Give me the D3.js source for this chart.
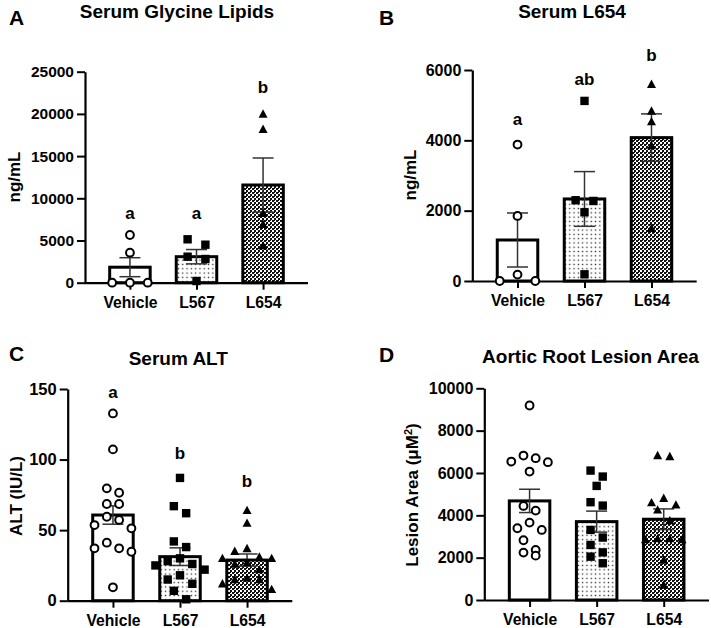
<!DOCTYPE html>
<html><head><meta charset="utf-8">
<script src="https://cdn.jsdelivr.net/npm/d3@7"></script>
<style>
body{margin:0;background:#fff;}
svg text{font-family:"Liberation Sans",Arial,Helvetica,sans-serif;font-weight:bold;fill:#000;}
</style></head>
<body><svg id="chart" width="711" height="628"></svg>
<script>
// ---------- data ----------
const categories = ["Vehicle", "L567", "L654"];

// Panel A: Serum Glycine Lipids (ng/mL)
const glyPoints = [
  [5652, 3555, 0, 0, 0],
  [5142, 4502, 3081, 2808, 201],
  [19988, 18175, 8223, 6920, 4384]
];
const glyMeans = [1836, 3081, 11576];
const glySems = [1125, 848, 3200];
const glyTicks = [0, 5000, 10000, 15000, 20000, 25000];
const glyLetters = ["a", "a", "b"];
const glyLetterVals = [7500, 7500, 22480];

// Panel B: Serum L654 (ng/mL)
const l654Points = [
  [3880, 1850, 182, 0, 0],
  [5121, 2276, 2296, 1954, 190],
  [5596, 4836, 4532, 3849, 1499]
];
const l654Means = [1166, 2333, 4077];
const l654Sems = [768, 778, 675];
const l654Ticks = [0, 2000, 4000, 6000];
const l654Letters = ["a", "ab", "b"];
const l654LetterVals = [4440, 5576, 6260];

// Panel C: Serum ALT (IU/L)
const altPoints = [
  [132.7, 107.2, 79.6, 76.5, 68.5, 68.5, 59.5, 57.2, 53.6, 51.3, 41.1, 37.1, 37.1, 34.7, 9.5],
  [87, 67, 62, 42, 38, 30, 28, 26, 25, 22, 18, 15, 12, 7, 1],
  [64, 55, 37, 35, 31, 30, 30, 27, 26, 22, 16, 15, 15, 12, 8]
];
const altMeans = [60.7, 31.2, 28.8];
const altSems = [6.5, 6.25, 4.3];
const altTicks = [0, 50, 100, 150];
const altLetters = ["a", "b", "b"];
const altLetterVals = [143.8, 100.4, 80.7];

// Panel D: Aortic Root Lesion Area (µM²)
const lesionPoints = [
  [9187, 6823, 6700, 6539, 6511, 6066, 4444, 4223, 3655, 3389, 3310, 2822, 2364, 2238, 2095],
  [6114, 5830, 5390, 4619, 4459, 3310, 2950, 2600, 2250, 2047, 1735],
  [6823, 6775, 4808, 4600, 4492, 4255, 3750, 2900, 2850, 2850, 2900, 1891, 709]
];
const lesionMeans = [4681, 3702, 3815];
const lesionSems = [551, 497, 488];
const lesionTicks = [0, 2000, 4000, 6000, 8000, 10000];

// ---------- drawing ----------
const svg = d3.select("#chart");
svg.append("rect").attr("width", 711).attr("height", 628).attr("fill", "#fff");

const defs = svg.append("defs");
const pDots = defs.append("pattern").attr("id", "dots").attr("patternUnits", "userSpaceOnUse")
  .attr("width", 4.3).attr("height", 4.3);
pDots.append("rect").attr("width", 4.3).attr("height", 4.3).attr("fill", "#fff");
pDots.append("rect").attr("x", 1.5).attr("y", 1.5).attr("width", 1.3).attr("height", 1.3).attr("fill", "#222");
const pChk = defs.append("pattern").attr("id", "checker").attr("patternUnits", "userSpaceOnUse")
  .attr("width", 4).attr("height", 4);
pChk.append("rect").attr("width", 4).attr("height", 4).attr("fill", "#fff");
pChk.append("rect").attr("x", 0).attr("y", 0).attr("width", 2).attr("height", 2).attr("fill", "#111");
pChk.append("rect").attr("x", 2).attr("y", 2).attr("width", 2).attr("height", 2).attr("fill", "#111");
pChk.append("rect").attr("x", 2).attr("y", 0).attr("width", 1).attr("height", 1).attr("fill", "#111");

const fills = ["#fff", "url(#dots)", "url(#checker)"];

function swarm(vals, y, spacing, thr) {
  const idx = vals.map((v, i) => i).sort((a, b) => vals[b] - vals[a]);
  const out = new Array(vals.length);
  let i = 0;
  while (i < idx.length) {
    const start = y(vals[idx[i]]);
    const row = [idx[i]];
    let j = i + 1;
    while (j < idx.length && y(vals[idx[j]]) - start < thr) { row.push(idx[j]); j++; }
    const n = row.length;
    const offs = d3.range(n).map(k => (k - (n - 1) / 2) * spacing);
    offs.sort((a, b) => Math.abs(a) - Math.abs(b) || a - b);
    row.forEach((p, k) => out[p] = offs[k]);
    i = j;
  }
  return out;
}

function drawPanel(c) {
  const g = svg.append("g");
  const x = d3.scalePoint().domain(categories).range([c.x0, c.x1]).padding(0.675);
  const y = d3.scaleLinear().domain([0, c.max]).range([c.yBot, c.yTop]);
  const bw = 40.5;

  // bars
  g.selectAll(".bar").data(c.means).join("rect")
    .attr("x", (d, i) => x(categories[i]) - bw / 2)
    .attr("y", d => y(d))
    .attr("width", bw)
    .attr("height", d => y(0) - y(d))
    .attr("fill", (d, i) => fills[i])
    .attr("stroke", "#000").attr("stroke-width", 3);

  // error bars
  const cap = 21;
  c.means.forEach((m, i) => {
    const cx = x(categories[i]);
    const lo = y(m - c.sems[i]), hi = y(m + c.sems[i]);
    g.append("line").attr("x1", cx).attr("x2", cx).attr("y1", lo).attr("y2", hi)
      .attr("stroke", "#333").attr("stroke-width", 1.5);
    [lo, hi].forEach(yy => g.append("line").attr("x1", cx - cap / 2).attr("x2", cx + cap / 2)
      .attr("y1", yy).attr("y2", yy).attr("stroke", "#333").attr("stroke-width", 1.5));
  });

  // axes
  const ya = d3.axisLeft(y).tickValues(c.ticks).tickSize(8).tickSizeOuter(0).tickPadding(3)
    .tickFormat(d3.format("d"));
  const yg = g.append("g").attr("transform", `translate(${c.x0},0)`).call(ya);
  yg.select(".domain").attr("stroke-width", 2.2);
  yg.selectAll(".tick line").attr("stroke-width", 2);
  yg.selectAll(".tick text").style("font-size", c.tickFont + "px").attr("font-weight", "bold");

  const xa = d3.axisBottom(x).tickSize(7).tickSizeOuter(0).tickPadding(7);
  const xg = g.append("g").attr("transform", `translate(0,${c.yBot})`).call(xa);
  xg.select(".domain").attr("stroke-width", 2.2).attr("d", `M${c.x0},0.5H${c.x1}`);
  xg.selectAll(".tick line").attr("stroke-width", 2);
  xg.selectAll(".tick text").style("font-size", "15.7px").attr("font-weight", "bold");
  yg.selectAll("text").attr("fill", "#000");
  xg.selectAll("text").attr("fill", "#000");

  // points
  c.points.forEach((vals, i) => {
    const cx = x(categories[i]);
    const offs = swarm(vals, y, c.spacing, c.thr);
    vals.forEach((v, k) => {
      const px = cx + offs[k], py = y(v);
      if (i === 0) {
        g.append("circle").attr("cx", px).attr("cy", py).attr("r", 3.9)
          .attr("fill", "#fff").attr("stroke", "#000").attr("stroke-width", 2);
      } else if (i === 1) {
        g.append("rect").attr("x", px - 4.2).attr("y", py - 4.2).attr("width", 8.4).attr("height", 8.4)
          .attr("fill", "#000");
      } else {
        g.append("path").attr("d", `M${px},${py - 4.7}L${px + 4.5},${py + 3.7}L${px - 4.5},${py + 3.7}Z`)
          .attr("fill", "#000");
      }
    });
  });

  // significance letters
  if (c.letters) {
    c.letters.forEach((t, i) => {
      g.append("text").attr("x", x(categories[i])).attr("y", y(c.letterVals[i]))
        .attr("text-anchor", "middle").style("font-size", "17px").text(t);
    });
  }

  // titles
  g.append("text").attr("x", c.titleX).attr("y", c.titleY).attr("text-anchor", "middle")
    .style("font-size", "19px").text(c.title);
  g.append("text").attr("x", c.labX).attr("y", c.labY).style("font-size", "21px").text(c.label);

  const yl = g.append("text").attr("transform", `translate(${c.ylX},${c.ylY}) rotate(-90)`)
    .attr("text-anchor", "middle").style("font-size", "17px");
  if (c.ylabelSup) {
    yl.append("tspan").text(c.ylabel);
    yl.append("tspan").attr("dy", -6).style("font-size", "11px").text(c.ylabelSup);
    yl.append("tspan").attr("dy", 6).text(")");
  } else {
    yl.text(c.ylabel);
  }
}

drawPanel({
  label: "A", labX: 9, labY: 25, title: "Serum Glycine Lipids", titleX: 177, titleY: 17.5,
  ylabel: "ng/mL", ylX: 20, ylY: 177,
  x0: 85, x1: 308, yTop: 71.7, yBot: 282.7, max: 25000, ticks: glyTicks, tickFont: 15.5,
  points: glyPoints, means: glyMeans, sems: glySems, letters: glyLetters, letterVals: glyLetterVals,
  spacing: 17.8, thr: 10
});
drawPanel({
  label: "B", labX: 379, labY: 25, title: "Serum L654", titleX: 572, titleY: 17.5,
  ylabel: "ng/mL", ylX: 416, ylY: 175,
  x0: 472.3, x1: 696.7, yTop: 70, yBot: 281, max: 6000, ticks: l654Ticks, tickFont: 16,
  points: l654Points, means: l654Means, sems: l654Sems, letters: l654Letters, letterVals: l654LetterVals,
  spacing: 17.8, thr: 10
});
drawPanel({
  label: "C", labX: 9, labY: 360.5, title: "Serum ALT", titleX: 178.3, titleY: 365,
  ylabel: "ALT (IU/L)", ylX: 21.5, ylY: 496,
  x0: 67.7, x1: 292.3, yTop: 389, yBot: 600.7, max: 150, ticks: altTicks, tickFont: 16.5,
  points: altPoints, means: altMeans, sems: altSems, letters: altLetters, letterVals: altLetterVals,
  spacing: 12.3, thr: 12
});
drawPanel({
  label: "D", labX: 379, labY: 361.7, title: "Aortic Root Lesion Area", titleX: 590.5, titleY: 363.3,
  ylabel: "Lesion Area (\u03bcM", ylabelSup: "2", ylX: 418, ylY: 495,
  x0: 484.3, x1: 709, yTop: 388.3, yBot: 600, max: 10000, ticks: lesionTicks, tickFont: 16,
  points: lesionPoints, means: lesionMeans, sems: lesionSems,
  spacing: 12.2, thr: 11
});
</script>
</body></html>
